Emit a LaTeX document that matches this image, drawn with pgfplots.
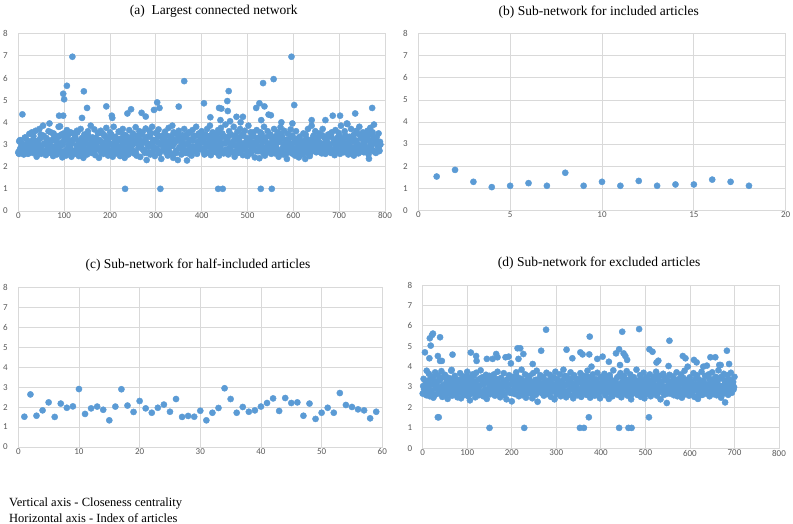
\documentclass[border=0pt]{standalone}
\usepackage{fontspec}
\setmainfont{Liberation Serif}
\newfontfamily\tickfont{Carlito}
\usepackage{pgfplots}
\pgfplotsset{compat=1.18}
\definecolor{dotblue}{HTML}{5B9BD5}
\definecolor{gridgray}{HTML}{D9D9D9}
\definecolor{labelgray}{HTML}{595959}
\pgfplotsset{
  panel/.style={
    scale only axis, anchor=south west,
    ymin=0, ymax=8, ytick={0,...,8},
    grid=major, major grid style={gridgray, line width=0.8pt},
    axis line style={gridgray, line width=0.8pt},
    major tick length=0pt,
    tick label style={font=\tickfont\fontsize{9}{10}\selectfont, text=labelgray},
    /pgf/number format/assume math mode=true,
    xticklabel style={inner sep=0pt, yshift=-1.5pt},
    yticklabel style={inner sep=0pt, xshift=-10.3pt},
    clip=false,
  },
  dots/.style={only marks, mark=*, mark size=3.1pt, color=dotblue, fill=dotblue},
}
\begin{document}
\begin{tikzpicture}
\useasboundingbox (0,0) rectangle (793pt,524pt);

% (a) largest connected network
\begin{axis}[panel, at={(18.3pt,313pt)}, width=366.7pt, height=177.3pt,
  xmin=0, xmax=800, xtick={0,100,...,800}]
\addplot[dots] coordinates {
(0,2.65)(2,2.58)(4,3.12)(6,2.70)(8,2.62)(10,2.95)(12,2.55)(14,3.30)(16,2.68)(18,2.80)(20,3.05)(22,2.60)(24,3.48)(26,2.72)(28,2.90)(30,3.55)(32,2.62)(34,3.20)(36,2.85)(38,3.62)
(40,2.45)(42,3.10)(44,2.75)(46,3.70)(48,2.95)(50,2.58)(52,3.35)(54,3.85)(56,2.68)(58,3.00)(60,2.52)(62,3.25)(64,2.80)(66,3.60)(68,3.95)(70,2.62)(72,3.15)(74,2.90)(76,2.48)(78,3.40)
(80,2.75)(82,3.22)(84,2.55)(86,3.05)(88,3.80)(90,2.65)(92,2.95)(94,3.45)(96,2.42)(98,3.10)(100,2.70)(102,3.30)(104,2.50)(106,3.65)(108,2.85)(110,3.00)(112,2.60)(114,3.55)(116,2.45)(118,3.20)
(120,3.50)(122,2.72)(124,3.38)(126,2.58)(128,3.62)(130,2.90)(132,2.48)(134,3.15)(136,3.70)(138,2.66)(140,3.05)(142,2.40)(144,3.45)(146,2.80)(148,3.25)(150,2.55)(152,3.60)(154,3.00)(156,2.70)(158,3.85)
(160,2.62)(162,3.32)(164,2.95)(166,3.68)(168,2.52)(170,3.10)(172,2.78)(174,3.50)(176,2.40)(178,3.20)(180,3.62)(182,2.85)(184,3.05)(186,2.58)(188,3.40)(190,2.70)(192,3.75)(194,2.92)(196,2.50)(198,3.28)
(200,3.55)(202,2.68)(204,3.02)(206,2.45)(208,3.80)(210,2.88)(212,3.35)(214,2.60)(216,3.15)(218,2.76)(220,3.58)(222,2.48)(224,3.25)(226,2.96)(228,3.70)(230,2.62)(232,2.40)(234,3.42)(236,2.82)(238,3.10)
(240,2.55)(242,3.65)(244,2.95)(246,3.30)(248,2.72)(250,3.50)(252,2.60)(254,3.08)(256,3.78)(258,2.50)(260,3.22)(262,2.86)(264,3.60)(266,2.44)(268,3.00)(270,3.45)(272,2.78)(274,3.15)(276,2.62)(278,3.72)
(280,2.30)(282,3.35)(284,2.90)(286,3.62)(288,2.55)(290,3.05)(292,3.80)(294,2.70)(296,3.20)(298,2.48)(300,3.52)(302,2.82)(304,3.10)(306,3.68)(308,2.60)(310,3.00)(312,2.35)(314,3.40)(316,2.76)(318,3.25)
(320,3.58)(322,2.65)(324,3.12)(326,2.50)(328,3.75)(330,2.92)(332,3.30)(334,2.58)(336,3.85)(338,2.40)(340,3.05)(342,3.48)(344,2.72)(346,3.20)(348,2.30)(350,3.62)(352,2.88)(354,3.15)(356,2.55)(358,3.42)
(360,2.95)(362,3.70)(364,2.62)(366,3.30)(368,2.28)(370,3.05)(372,3.55)(374,2.80)(376,3.18)(378,2.50)(380,3.65)(382,2.90)(384,3.38)(386,2.70)(388,3.80)(390,2.58)(392,3.10)(394,3.50)(396,2.85)(398,3.25)
(400,3.60)(402,2.75)(404,3.12)(406,2.55)(408,3.45)(410,2.92)(412,3.70)(414,2.62)(416,3.28)(418,3.85)(420,2.52)(422,3.00)(424,3.55)(426,2.80)(428,3.20)(430,2.66)(432,3.40)(434,2.95)(436,3.65)(438,2.50)
(440,3.15)(442,3.75)(444,2.70)(446,3.35)(448,2.60)(450,3.05)(452,3.90)(454,2.78)(456,3.22)(458,2.55)(460,3.60)(462,2.88)(464,3.45)(466,2.68)(468,3.10)(470,3.80)(472,2.45)(474,3.30)(476,2.92)(478,3.58)
(480,2.62)(482,3.18)(484,3.70)(486,2.80)(488,3.40)(490,2.52)(492,3.05)(494,3.62)(496,2.75)(498,3.28)(500,2.48)(502,3.85)(504,2.95)(506,3.15)(508,2.60)(510,3.50)(512,2.85)(514,3.35)(516,2.42)(518,3.00)
(520,3.65)(522,2.70)(524,3.20)(526,2.38)(528,3.55)(530,2.92)(532,3.10)(534,2.65)(536,3.80)(538,2.50)(540,3.32)(542,2.85)(544,3.60)(546,2.75)(548,3.05)(550,3.45)(552,2.58)(554,3.25)(556,2.90)(558,3.70)
(560,2.60)(562,3.38)(564,2.80)(566,3.55)(568,2.45)(570,3.12)(572,3.78)(574,2.68)(576,3.30)(578,2.55)(580,3.62)(582,2.95)(584,3.20)(586,2.35)(588,3.48)(590,2.78)(592,3.05)(594,3.68)(596,2.62)(598,3.40)
(600,2.85)(602,3.25)(604,2.50)(606,3.60)(608,2.72)(610,3.02)(612,2.42)(614,3.35)(616,2.65)(618,3.15)(620,2.55)(622,3.50)(624,2.80)(626,2.35)(628,3.28)(630,2.62)(632,3.70)(634,2.90)(636,2.48)(638,3.10)
(640,3.85)(642,2.70)(644,3.40)(646,2.85)(648,3.60)(650,2.65)(652,3.20)(654,2.95)(656,3.50)(658,2.75)(660,3.05)(662,2.60)(664,3.70)(666,2.82)(668,3.30)(670,2.58)(672,3.15)(674,2.90)(676,3.45)(678,2.68)
(680,3.00)(682,2.62)(684,3.55)(686,2.78)(688,3.22)(690,2.52)(692,3.65)(694,2.88)(696,3.10)(698,2.70)(700,3.40)(702,2.58)(704,3.85)(706,2.95)(708,3.25)(710,2.65)(712,3.60)(714,2.80)(716,3.05)(718,3.92)
(720,2.55)(722,3.35)(724,2.90)(726,3.70)(728,2.68)(730,3.15)(732,2.50)(734,3.48)(736,2.82)(738,3.62)(740,3.00)(742,2.60)(744,3.80)(746,2.75)(748,3.28)(750,2.92)(752,3.55)(754,2.65)(756,3.10)(758,3.40)
(760,2.78)(762,3.62)(764,2.55)(766,3.20)(768,3.75)(770,2.88)(772,3.45)(774,2.70)(776,3.90)(778,3.05)(780,2.62)(782,3.35)(784,2.95)(786,3.50)(788,2.72)(790,3.00)
};
\addplot[dots] coordinates {
(1,2.60)(5,2.85)(9,3.02)(13,2.72)(17,3.25)(21,2.58)(25,3.10)(29,2.95)(33,3.38)(37,2.66)(41,3.15)(45,2.80)(49,3.45)(53,2.70)(57,3.05)(61,3.30)(65,2.62)(69,2.90)(73,3.20)(77,3.50)
(81,2.78)(85,3.08)(89,3.35)(93,2.64)(97,2.98)(101,3.22)(105,2.70)(109,3.42)(113,2.86)(117,3.12)(121,2.60)(125,3.28)(129,3.55)(133,2.75)(137,3.00)(141,2.88)(145,3.18)(149,2.68)(153,3.40)(157,2.92)
(161,3.05)(165,2.72)(169,3.30)(173,2.84)(177,3.15)(181,2.62)(185,3.48)(189,2.96)(193,3.20)(197,2.76)(201,3.02)(205,3.36)(209,2.66)(213,3.10)(217,2.90)(221,3.25)(225,2.58)(229,3.44)(233,2.82)(237,3.08)
(241,3.32)(245,2.70)(249,2.98)(253,3.18)(257,2.60)(261,3.40)(265,2.88)(269,3.12)(273,2.74)(277,3.28)(281,3.02)(285,2.65)(289,3.50)(293,2.92)(297,3.15)(301,2.80)(305,3.35)(309,2.68)(313,3.05)(317,3.22)
(321,2.86)(325,3.12)(329,2.70)(333,3.38)(337,2.95)(341,3.20)(345,2.62)(349,3.45)(353,2.82)(357,3.08)(361,3.30)(365,2.74)(369,3.00)(373,3.52)(377,2.66)(381,3.18)(385,2.90)(389,3.40)(393,2.78)(397,3.10)
(401,3.25)(405,2.68)(409,3.42)(413,2.92)(417,3.15)(421,2.76)(425,3.35)(429,3.02)(433,2.64)(437,3.28)(441,2.88)(445,3.50)(449,2.72)(453,3.10)(457,3.32)(461,2.84)(465,3.05)(469,2.62)(473,3.40)(477,2.96)
(481,3.18)(485,2.74)(489,3.45)(493,2.90)(497,3.08)(501,2.66)(505,3.30)(509,2.80)(513,3.55)(517,2.98)(521,3.12)(525,2.70)(529,3.38)(533,2.86)(537,3.22)(541,2.62)(545,3.02)(549,3.42)(553,2.78)(557,3.15)
(561,2.92)(565,3.28)(569,2.68)(573,3.48)(577,2.84)(581,3.05)(585,2.60)(589,3.20)(593,2.94)(597,3.36)(601,2.72)(605,3.10)(609,2.56)(613,3.30)(617,2.88)(621,2.66)(625,3.15)(629,2.78)(633,3.02)(637,2.62)
(641,3.25)(645,2.80)(649,3.10)(653,2.68)(657,3.38)(661,2.92)(665,3.02)(669,2.74)(673,3.20)(677,2.86)(681,3.48)(685,2.64)(689,3.08)(693,2.96)(697,3.32)(701,2.70)(705,3.15)(709,2.84)(713,3.42)(717,2.90)
(721,3.05)(725,2.72)(729,3.30)(733,2.88)(737,3.18)(741,2.66)(745,3.45)(749,2.94)(753,3.10)(757,2.78)(761,3.35)(765,2.82)(769,3.02)(773,3.55)(777,2.70)(781,3.22)(785,2.90)(789,3.12)
};
\addplot[dots] coordinates {
(3,2.75)(7,3.05)(11,2.62)(15,3.32)(19,2.90)(23,2.68)(27,3.15)(31,3.48)(35,2.80)(39,3.00)(43,2.58)(47,3.25)(51,2.95)(55,3.40)(59,2.70)(63,3.12)(67,2.86)(71,3.55)(75,2.64)(79,3.20)
(83,2.92)(87,3.38)(91,2.72)(95,3.08)(99,3.50)(103,2.60)(107,3.22)(111,2.84)(115,3.02)(119,2.68)(123,3.45)(127,2.96)(131,3.15)(135,2.76)(139,3.30)(143,2.56)(147,3.05)(151,3.42)(155,2.82)(159,3.18)
(163,2.66)(167,3.28)(171,2.94)(175,3.52)(179,2.74)(183,3.10)(187,2.88)(191,3.35)(195,2.60)(199,3.02)(203,3.45)(207,2.78)(211,3.20)(215,2.92)(219,3.58)(223,2.70)(227,3.12)(231,2.84)(235,3.30)(239,2.62)
(243,3.15)(247,2.80)(251,3.42)(255,2.68)(259,3.05)(263,3.28)(267,2.90)(271,3.55)(275,2.74)(279,3.10)(283,2.62)(287,3.35)(291,2.96)(295,3.20)(299,2.82)(303,3.48)(307,2.66)(311,3.02)(315,3.25)(319,2.88)
(323,3.40)(327,2.70)(331,3.08)(335,2.94)(339,3.55)(343,2.64)(347,3.18)(351,2.84)(355,3.32)(359,2.76)(363,3.02)(367,3.45)(371,2.60)(375,3.22)(379,2.90)(383,3.38)(387,2.72)(391,3.12)(395,2.98)(399,3.50)
(403,2.82)(407,3.28)(411,2.66)(415,3.05)(419,3.40)(423,2.90)(427,3.15)(431,2.74)(435,3.52)(439,2.86)(443,3.02)(447,2.62)(451,3.35)(455,3.10)(459,2.78)(463,3.45)(467,2.94)(471,3.20)(475,2.68)(479,3.32)
(483,3.00)(487,2.76)(491,3.42)(495,2.88)(499,3.18)(503,2.64)(507,3.55)(511,2.96)(515,3.08)(519,2.72)(523,3.30)(527,2.84)(531,3.48)(535,2.60)(539,3.15)(543,2.92)(547,3.38)(551,2.70)(555,3.05)(559,3.25)
(563,2.86)(567,3.12)(571,2.66)(575,3.42)(579,2.94)(583,3.20)(587,2.74)(591,3.02)(595,3.35)(599,2.58)(603,3.10)(607,2.82)(611,3.28)(615,2.68)(619,3.00)(623,2.90)(627,3.45)(631,2.62)(635,3.18)(639,2.80)
(643,3.05)(647,3.32)(651,2.72)(655,3.15)(659,2.92)(663,3.42)(667,2.66)(671,3.22)(675,2.86)(679,3.00)(683,3.35)(687,2.76)(691,3.10)(695,2.96)(699,3.52)(703,2.70)(707,3.18)(711,2.88)(715,3.30)(719,2.62)
(723,3.20)(727,2.84)(731,3.42)(735,2.74)(739,3.08)(743,2.94)(747,3.35)(751,2.68)(755,3.15)(759,2.88)(763,3.48)(767,2.78)(771,3.02)(775,3.28)(779,2.66)(783,3.12)(787,2.92)
};
% outlying articles
\addplot[dots] coordinates {
(2,3.15)(4,3.20)(9,4.36)(89,4.30)(91,3.82)(98,4.30)(98,5.29)(100,5.04)(106,5.65)(118,6.96)
(139,4.20)(143,5.40)(150,4.65)(192,4.72)(204,4.30)(205,4.20)(233,1.00)(238,4.40)(246,4.59)
(269,4.43)(278,4.26)(296,4.56)(303,4.90)(308,4.65)(310,1.00)(350,4.71)(362,5.86)(405,4.86)
(419,4.23)(436,1.00)(446,1.00)(438,4.65)(443,4.62)(441,4.10)(456,4.96)(459,5.41)(457,4.51)
(462,4.05)(476,4.25)(485,4.00)(490,4.25)(519,4.65)(526,4.86)(530,4.10)(529,1.00)(534,5.77)
(537,4.72)(546,4.35)(551,4.32)(553,1.00)(557,5.95)(574,4.00)(596,6.96)(598,3.95)(602,4.78)
(640,4.10)(670,4.10)(686,4.30)(702,4.30)(717,3.95)(735,4.40)(765,2.36)(772,4.65)(787,2.70)
};
\end{axis}

% (b) included articles
\begin{axis}[panel, at={(418.3pt,313.7pt)}, width=367.4pt, height=176.6pt,
  xmin=0, xmax=20, xtick={0,5,...,20}]
\addplot[dots] coordinates {
(1,1.53)(2,1.83)(3,1.29)(4,1.05)(5,1.11)(6,1.23)(7,1.11)(8,1.70)(9,1.11)
(10,1.29)(11,1.11)(12,1.33)(13,1.11)(14,1.17)(15,1.17)(16,1.39)(17,1.29)(18,1.11)
};
\end{axis}

% (c) half-included articles
\begin{axis}[panel, at={(18.3pt,77pt)}, width=364pt, height=159.3pt,
  xmin=0, xmax=60, xtick={0,10,...,60}]
\addplot[dots] coordinates {
(1,1.52)(2,2.64)(3,1.57)(4,1.84)(5,2.24)(6,1.51)(7,2.18)(8,1.97)(9,2.04)(10,2.91)
(11,1.66)(12,1.94)(13,2.03)(14,1.87)(15,1.34)(16,2.03)(17,2.90)(18,2.08)(19,1.76)(20,2.31)
(21,1.94)(22,1.72)(23,1.97)(24,2.13)(25,1.77)(26,2.41)(27,1.51)(28,1.56)(29,1.52)(30,1.82)
(31,1.34)(32,1.72)(33,1.96)(34,2.95)(35,2.41)(36,1.72)(37,2.01)(38,1.77)(39,1.84)(40,2.03)
(41,2.21)(42,2.44)(43,1.81)(44,2.46)(45,2.21)(46,2.24)(47,1.57)(48,2.18)(49,1.41)(50,1.72)
(51,1.97)(52,1.72)(53,2.71)(54,2.11)(55,2.01)(56,1.89)(57,1.84)(58,1.44)(59,1.77)
};
\end{axis}

% (d) excluded articles
\begin{axis}[panel, at={(422.7pt,75.7pt)}, width=356.3pt, height=163.3pt,
  xmin=0, xmax=800, xtick={0,100,...,800}]
\addplot[dots] coordinates {
(0,2.68)(2,3.40)(4,2.75)(6,3.05)(8,2.60)(10,3.30)(12,2.90)(14,3.65)(16,2.55)(18,3.15)(20,2.80)(22,3.50)(24,2.48)(26,3.22)(28,3.72)(30,2.65)(32,3.00)(34,3.58)(36,2.70)(38,3.35)
(40,2.95)(42,3.78)(44,2.52)(46,3.10)(48,2.85)(50,3.60)(52,2.62)(54,3.28)(56,2.42)(58,3.45)(60,3.02)(62,2.72)(64,3.80)(66,2.58)(68,3.18)(70,2.90)(72,3.55)(74,2.66)(76,3.38)(78,2.50)
(80,3.25)(82,2.80)(84,3.68)(86,2.45)(88,3.08)(90,2.95)(92,3.52)(94,2.62)(96,3.32)(98,2.76)(100,3.75)(102,2.55)(104,3.12)(106,2.35)(108,3.42)(110,2.86)(112,3.62)(114,2.70)(116,3.20)(118,2.50)
(120,3.70)(122,2.92)(124,3.35)(126,2.60)(128,3.05)(130,3.82)(132,2.72)(134,3.48)(136,2.55)(138,3.15)(140,2.88)(142,3.60)(144,2.42)(146,3.25)(148,2.78)(150,3.55)(152,2.65)(154,3.00)(156,3.40)(158,2.85)
(160,3.62)(162,2.58)(164,3.30)(166,2.95)(168,3.75)(170,2.68)(172,3.10)(174,2.50)(176,3.45)(178,2.82)(180,3.20)(182,3.68)(184,2.62)(186,3.02)(188,2.40)(190,3.38)(192,2.90)(194,3.58)(196,2.72)(198,3.15)
(200,2.30)(202,3.50)(204,2.85)(206,3.28)(208,2.65)(210,3.72)(212,2.95)(214,3.08)(216,2.55)(218,3.42)(220,2.78)(222,3.85)(224,2.60)(226,3.18)(228,2.92)(230,3.62)(232,2.48)(234,3.35)(236,2.70)(238,3.05)
(240,3.55)(242,2.82)(244,3.25)(246,2.45)(248,3.68)(250,2.98)(252,3.12)(254,2.62)(256,3.80)(258,2.28)(260,3.38)(262,2.75)(264,3.58)(266,2.90)(268,3.02)(270,3.45)(272,2.58)(274,3.20)(276,2.85)(278,3.70)
(280,2.66)(282,3.32)(284,2.95)(286,3.60)(288,2.52)(290,3.15)(292,2.80)(294,3.48)(296,2.40)(298,3.75)(300,3.00)(302,2.70)(304,3.35)(306,2.88)(308,3.62)(310,2.55)(312,3.22)(314,2.98)(316,3.85)(318,2.68)
(320,3.10)(322,2.50)(324,3.52)(326,2.82)(328,3.30)(330,2.62)(332,3.72)(334,2.92)(336,3.18)(338,2.45)(340,3.58)(342,2.78)(344,3.05)(346,3.40)(348,2.60)(350,3.25)(352,2.88)(354,3.68)(356,2.52)(358,3.12)
(360,2.75)(362,3.55)(364,2.95)(366,3.32)(368,2.62)(370,3.80)(372,2.85)(374,3.08)(376,2.48)(378,3.45)(380,2.72)(382,3.62)(384,3.00)(386,2.58)(388,3.28)(390,2.90)(392,3.70)(394,2.65)(396,3.15)(398,2.45)
(400,3.50)(402,2.80)(404,3.22)(406,2.95)(408,3.65)(410,2.60)(412,3.38)(414,2.75)(416,3.05)(418,2.42)(420,3.58)(422,2.88)(424,3.18)(426,2.55)(428,3.82)(430,2.70)(432,3.30)(434,2.98)(436,3.45)(438,2.62)
(440,3.12)(442,2.85)(444,3.68)(446,2.50)(448,3.25)(450,2.92)(452,3.55)(454,2.68)(456,3.02)(458,3.78)(460,2.58)(462,3.35)(464,2.80)(466,3.62)(468,2.40)(470,3.15)(472,2.95)(474,3.48)(476,2.72)(478,3.08)
(480,3.85)(482,2.62)(484,3.32)(486,2.88)(488,3.58)(490,2.52)(492,3.20)(494,2.75)(496,3.70)(498,2.45)(500,3.05)(502,3.42)(504,2.66)(506,3.18)(508,2.90)(510,3.62)(512,2.55)(514,3.28)(516,2.82)(518,3.50)
(520,2.70)(522,3.10)(524,3.75)(526,2.58)(528,3.38)(530,2.95)(532,3.55)(534,2.40)(536,3.22)(538,2.85)(540,3.65)(542,2.62)(544,3.00)(546,3.45)(548,2.22)(550,3.30)(552,2.78)(554,3.60)(556,2.68)(558,3.15)
(560,2.92)(562,3.52)(564,2.60)(566,3.28)(568,2.82)(570,3.72)(572,2.55)(574,3.08)(576,3.40)(578,2.75)(580,3.62)(582,2.48)(584,3.18)(586,2.95)(588,3.80)(590,2.65)(592,3.35)(594,2.88)(596,3.02)(598,2.58)
(600,3.48)(602,2.78)(604,3.25)(606,2.98)(608,3.68)(610,2.52)(612,3.12)(614,2.85)(616,3.58)(618,2.42)(620,3.38)(622,2.72)(624,3.05)(626,3.75)(628,2.62)(630,3.22)(632,2.90)(634,3.55)(636,2.68)(638,3.10)
(640,2.80)(642,3.62)(644,2.55)(646,3.35)(648,2.95)(650,3.72)(652,2.65)(654,3.15)(656,2.88)(658,3.50)(660,2.60)(662,3.28)(664,3.82)(666,2.75)(668,3.05)(670,2.48)(672,3.42)(674,2.92)(676,3.65)(678,2.70)
(680,3.20)(682,2.85)(684,3.58)(686,2.62)(688,3.38)(690,2.98)(692,3.70)(694,2.72)(696,3.12)(698,2.88)(700,3.50)
};
\addplot[dots] coordinates {
(1,3.05)(5,2.72)(9,3.22)(13,2.88)(17,3.40)(21,2.65)(25,3.12)(29,2.95)(33,3.30)(37,2.78)(41,3.02)(45,3.48)(49,2.68)(53,3.18)(57,2.90)(61,3.35)(65,2.62)(69,3.08)(73,2.82)(77,3.25)
(81,2.95)(85,3.38)(89,2.70)(93,3.15)(97,2.86)(101,3.50)(105,2.64)(109,3.02)(113,3.28)(117,2.80)(121,3.10)(125,2.92)(129,3.42)(133,2.74)(137,3.20)(141,2.60)(145,3.32)(149,2.98)(153,3.06)(157,2.84)
(161,3.18)(165,2.76)(169,3.36)(173,2.92)(177,3.02)(181,2.66)(185,3.28)(189,3.12)(193,2.85)(197,3.45)(201,2.70)(205,3.05)(209,2.94)(213,3.22)(217,2.62)(221,3.40)(225,2.88)(229,3.10)(233,2.78)(237,3.30)
(241,2.90)(245,3.15)(249,2.72)(253,3.35)(257,3.00)(261,2.82)(265,3.48)(269,2.68)(273,3.20)(277,2.95)(281,3.08)(285,2.76)(289,3.42)(293,2.86)(297,3.12)(301,2.64)(305,3.28)(309,3.02)(313,2.80)(317,3.38)
(321,3.10)(325,2.74)(329,3.25)(333,2.92)(337,3.45)(341,2.66)(345,3.05)(349,2.88)(353,3.32)(357,2.78)(361,3.18)(365,2.96)(369,3.52)(373,2.70)(377,3.02)(381,3.22)(385,2.84)(389,3.38)(393,2.62)(397,3.12)
(401,2.94)(405,3.30)(409,2.72)(413,3.15)(417,2.86)(421,3.42)(425,3.00)(429,2.68)(433,3.25)(437,2.90)(441,3.08)(445,2.76)(449,3.48)(453,2.82)(457,3.20)(461,2.98)(465,3.35)(469,2.64)(473,3.10)(477,2.88)
(481,3.28)(485,2.80)(489,3.05)(493,3.40)(497,2.70)(501,3.18)(505,2.92)(509,3.32)(513,2.62)(517,3.12)(521,2.86)(525,3.50)(529,2.74)(533,3.02)(537,3.25)(541,2.96)(545,3.38)(549,2.68)(553,3.15)(557,2.84)
(561,3.08)(565,2.78)(569,3.35)(573,2.90)(577,3.20)(581,2.66)(585,3.45)(589,2.98)(593,3.10)(597,2.82)(601,3.28)(605,2.72)(609,3.02)(613,3.40)(617,2.88)(621,3.15)(625,2.62)(629,3.30)(633,2.94)(637,3.05)
(641,2.76)(645,3.22)(649,2.90)(653,3.38)(657,2.70)(661,3.12)(665,2.96)(669,3.48)(673,2.84)(677,3.05)(681,3.30)(685,2.66)(689,3.18)(693,2.92)(697,3.25)
};
\addplot[dots] coordinates {
(3,2.90)(7,3.28)(11,2.70)(15,3.10)(19,2.84)(23,3.45)(27,2.62)(31,3.18)(35,2.96)(39,3.35)(43,2.74)(47,3.05)(51,3.50)(55,2.80)(59,3.22)(63,2.66)(67,3.40)(71,2.92)(75,3.12)(79,2.72)
(83,3.30)(87,2.86)(91,3.08)(95,2.64)(99,3.42)(103,2.98)(107,3.20)(111,2.76)(115,3.55)(119,2.88)(123,3.02)(127,2.68)(131,3.35)(135,3.15)(139,2.82)(143,3.48)(147,2.70)(151,3.25)(155,2.94)(159,3.05)
(163,2.78)(167,3.38)(171,2.92)(175,3.12)(179,2.62)(183,3.30)(187,3.02)(191,2.84)(195,3.45)(199,2.72)(203,3.18)(207,2.96)(211,3.52)(215,2.66)(219,3.08)(223,3.32)(227,2.80)(231,3.22)(235,2.90)(239,3.42)
(243,2.68)(247,3.10)(251,2.98)(255,3.35)(259,2.76)(263,3.20)(267,2.88)(271,3.48)(275,2.64)(279,3.05)(283,3.28)(287,2.82)(291,3.15)(295,2.94)(299,3.40)(303,2.70)(307,3.02)(311,3.25)(315,2.86)(319,3.55)
(323,2.74)(327,3.15)(331,3.38)(335,2.90)(339,3.05)(343,2.66)(347,3.30)(351,2.84)(355,3.45)(359,2.98)(363,3.12)(367,2.72)(371,3.22)(375,2.92)(379,3.50)(383,2.78)(387,3.08)(391,3.35)(395,2.62)(399,3.18)
(403,3.02)(407,2.80)(411,3.42)(415,2.94)(419,3.15)(423,2.68)(427,3.28)(431,3.05)(435,2.86)(439,3.52)(443,2.74)(447,3.20)(451,2.96)(455,3.38)(459,2.64)(463,3.10)(467,2.90)(471,3.45)(475,2.78)(479,3.25)
(483,2.70)(487,3.32)(491,2.92)(495,3.12)(499,2.84)(503,3.48)(507,2.66)(511,3.05)(515,3.22)(519,2.96)(523,3.40)(527,2.76)(531,3.15)(535,2.88)(539,3.55)(543,2.72)(547,3.02)(551,3.30)(555,2.82)(559,3.18)
(563,3.38)(567,2.74)(571,3.08)(575,2.94)(579,3.45)(583,2.68)(587,3.22)(591,2.86)(595,3.12)(599,3.35)(603,2.78)(607,3.02)(611,2.92)(615,3.50)(619,2.64)(623,3.18)(627,2.98)(631,3.28)(635,2.80)(639,3.10)
(643,3.42)(647,2.72)(651,3.15)(655,2.90)(659,3.32)(663,2.84)(667,3.05)(671,3.48)(675,2.68)(679,3.22)(683,2.96)(687,3.38)(691,2.76)(695,3.12)(699,3.00)
};
% outlying articles
\addplot[dots] coordinates {
(5,4.70)(9,3.80)(15,4.41)(16,5.39)(18,5.03)(21,5.55)(23,5.62)(34,4.52)(34,1.52)(36,1.52)
(39,5.44)(39,4.28)(43,4.28)(65,3.84)(67,4.59)(108,4.69)(120,4.52)(121,4.28)(144,4.38)(150,1.00)
(157,4.38)(165,4.62)(168,4.46)(186,4.46)(193,4.49)(198,4.16)(213,4.90)(215,4.38)(219,4.90)(226,4.62)
(228,1.00)(247,4.13)(266,4.78)(277,5.81)(323,4.83)(336,4.41)(353,1.00)(362,1.00)(354,4.70)(359,4.60)
(373,1.52)(375,5.47)(374,4.60)(379,4.00)(392,4.38)(404,4.49)(418,4.24)(434,4.65)(441,1.00)(441,4.85)
(443,4.08)(448,5.71)(451,4.65)(455,4.52)(459,4.33)(462,1.00)(469,1.00)(486,5.84)(508,1.52)(509,4.85)
(516,4.73)(525,4.20)(529,4.29)(552,4.03)(554,5.27)(584,4.52)(590,4.41)(595,4.00)(609,4.33)(615,4.21)
(630,4.00)(638,4.05)(646,4.46)(657,4.46)(666,4.08)(669,4.08)(679,2.25)(683,4.78)(688,4.13)
};
\end{axis}

\node[font=\fontsize{13.5}{16}\selectfont] at (213.7pt,513pt) {(a)\ \ Largest connected network};
\node[font=\fontsize{13.5}{16}\selectfont] at (598.8pt,512.3pt) {(b) Sub-network for included articles};
\node[font=\fontsize{13.5}{16}\selectfont] at (198pt,259pt) {(c) Sub-network for half-included articles};
\node[font=\fontsize{13.5}{16}\selectfont] at (599.2pt,260.7pt) {(d) Sub-network for excluded articles};
\node[anchor=west, inner sep=0pt, font=\fontsize{12.5}{14}\selectfont] at (9pt,20pt) {Vertical axis - Closeness centrality};
\node[anchor=west, inner sep=0pt, font=\fontsize{12.5}{14}\selectfont] at (9pt,6pt) {Horizontal axis - Index of articles};
\end{tikzpicture}
\end{document}
